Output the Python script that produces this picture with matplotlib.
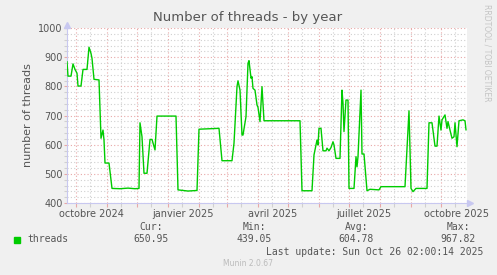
import numpy as np
import matplotlib
matplotlib.use("Agg")
import matplotlib.pyplot as plt
import matplotlib.dates as mdates
from matplotlib.patches import Rectangle

# data
dates = [
    "2024-09-22", "2024-09-23", "2024-09-26", "2024-09-28", "2024-09-30",
    "2024-10-02", "2024-10-03", "2024-10-06", "2024-10-08", "2024-10-12",
    "2024-10-14", "2024-10-16", "2024-10-17", "2024-10-19", "2024-10-24",
    "2024-10-26", "2024-10-28", "2024-10-29", "2024-10-30", "2024-11-03",
    "2024-11-06", "2024-11-14", "2024-11-22", "2024-11-29", "2024-12-03",
    "2024-12-04", "2024-12-06", "2024-12-08", "2024-12-11", "2024-12-14",
    "2024-12-16", "2024-12-19", "2024-12-21", "2025-01-09", "2025-01-11",
    "2025-01-21", "2025-01-30", "2025-02-01", "2025-02-21", "2025-02-24",
    "2025-03-06", "2025-03-08", "2025-03-11", "2025-03-12", "2025-03-14",
    "2025-03-16", "2025-03-17", "2025-03-20", "2025-03-22", "2025-03-23",
    "2025-03-25", "2025-03-26", "2025-03-27", "2025-03-29", "2025-03-31",
    "2025-04-01", "2025-04-03", "2025-04-05", "2025-04-07", "2025-05-13",
    "2025-05-15", "2025-05-25", "2025-05-27", "2025-05-30", "2025-05-31",
    "2025-06-01", "2025-06-03", "2025-06-05", "2025-06-08", "2025-06-09",
    "2025-06-11", "2025-06-13", "2025-06-15", "2025-06-16", "2025-06-18",
    "2025-06-22", "2025-06-24", "2025-06-25", "2025-06-26", "2025-06-28",
    "2025-06-30", "2025-07-01", "2025-07-06", "2025-07-08", "2025-07-09",
    "2025-07-10", "2025-07-13", "2025-07-14", "2025-07-16", "2025-07-19",
    "2025-07-22", "2025-07-31", "2025-08-02", "2025-08-26", "2025-08-30",
    "2025-09-01", "2025-09-03", "2025-09-06", "2025-09-17", "2025-09-19",
    "2025-09-22", "2025-09-25", "2025-09-27", "2025-09-29", "2025-10-01",
    "2025-10-02", "2025-10-05", "2025-10-07", "2025-10-08", "2025-10-10",
    "2025-10-12", "2025-10-14", "2025-10-15", "2025-10-17", "2025-10-19",
    "2025-10-23", "2025-10-25", "2025-10-26",
]
threads = [
    884, 835, 835, 877, 858,
    845, 801, 801, 858, 858,
    934, 913, 896, 824, 822,
    622, 650, 616, 537, 537,
    450, 449, 451, 449, 450,
    675, 627, 502, 502, 618,
    618, 582, 698, 698, 445,
    441, 443, 653, 656, 545,
    545, 605, 799, 819, 787,
    633, 633, 696, 879, 888,
    828, 833, 793, 787, 736,
    728, 679, 799, 682, 682,
    442, 442, 565, 616, 599,
    656, 656, 579, 579, 588,
    579, 590, 610, 599, 553,
    553, 787, 742, 645, 753,
    753, 450, 450, 559, 524,
    559, 787, 568, 568, 442,
    447, 445, 456, 456, 716,
    450, 439, 450, 450, 675,
    675, 595, 595, 698, 650,
    685, 702, 656, 679, 650,
    622, 627, 675, 593, 682,
    685, 682, 651,
]

label_dates = ["2024-10-16", "2025-01-16", "2025-04-16", "2025-07-16", "2025-10-16"]
label_names = ["octobre 2024", "janvier 2025", "avril 2025", "juillet 2025", "octobre 2025"]

stat_names = ["Cur:", "Min:", "Avg:", "Max:"]
stat_values = ["650.95", "439.05", "604.78", "967.82"]

W, H = 497, 275
BG = "#F0F0F0"
MAJ = "#E8A8A8"
MIN = "#D0D0D0"
AXIS = "#C8C8F0"
TXT = "#555555"

x = np.array(dates, dtype="datetime64[D]")

fig = plt.figure(figsize=(W / 100, H / 100), dpi=100, facecolor=BG)
ax = fig.add_axes([67 / W, 72 / H, 400 / W, 175 / H])
ax.set_facecolor("white")

ax.plot(x, threads, color="#00CC00", lw=1.0, zorder=3)

ax.set_xlim(np.datetime64("2024-09-22"), np.datetime64("2025-10-27"))
ax.set_ylim(400, 1000)

# grid: months major (red), mid-month minor (gray)
ax.xaxis.set_major_locator(mdates.MonthLocator())
ax.xaxis.set_minor_locator(mdates.DayLocator(bymonthday=15))
ax.xaxis.set_major_formatter(plt.NullFormatter())
ax.set_yticks(np.arange(400, 1001, 100))
ax.set_yticks(np.arange(400, 1001, 20), minor=True)

ax.grid(which="major", color=MAJ, lw=0.8, linestyle=(0, (1, 2)))
ax.grid(which="minor", color=MIN, lw=0.8, linestyle=(0, (1, 2)))
ax.set_axisbelow(True)

ax.tick_params(which="major", length=3, width=0.8, color=MAJ, labelsize=7, labelcolor=TXT, pad=1)
ax.tick_params(which="minor", length=3, width=0.8, color=MIN)
ax.tick_params(axis="y", which="both", length=2)

for s in ["top", "right"]:
    ax.spines[s].set_visible(False)
for s in ["left", "bottom"]:
    ax.spines[s].set_color(AXIS)
    ax.spines[s].set_linewidth(0.8)

# axis arrows
ax.plot([1.0 + 3 / 400], [0], marker=">", ms=4, color=AXIS, transform=ax.transAxes, clip_on=False)
ax.plot([0], [1.0 + 3 / 175], marker="^", ms=4, color=AXIS, transform=ax.transAxes, clip_on=False)

sec = ax.secondary_xaxis("bottom")
sec.set_xticks(np.array(label_dates, dtype="datetime64[D]"))
sec.set_xticklabels(label_names)
sec.tick_params(length=0, labelsize=7, labelcolor=TXT, pad=4)
sec.spines["bottom"].set_visible(False)

ax.set_ylabel("number of threads", fontsize=8, color=TXT, labelpad=4)

def fx(px):
    return px / W

def fy(py):
    return 1 - py / H

fig.text(fx(248), fy(17), "Number of threads - by year", ha="center", va="center",
         fontsize=9.5, color=TXT)
fig.text(fx(487), fy(4), "RRDTOOL / TOBI OETIKER", rotation=270, ha="center", va="top",
         fontsize=5.5, color="#C4C4C4")

# legend block
fig.patches.append(Rectangle((fx(14), fy(243)), 6 / W, 6 / H, transform=fig.transFigure,
                             color="#00CC00"))
mono = dict(family="DejaVu Sans Mono", fontsize=7, color=TXT, va="center")
fig.text(fx(27), fy(239), "threads", ha="left", **mono)
for name, val, right in zip(stat_names, stat_values, [169, 272, 374, 476]):
    fig.text(fx(right - 6), fy(227), name, ha="right", **mono)
    fig.text(fx(right), fy(239), val, ha="right", **mono)
fig.text(fx(483), fy(252), "Last update: Sun Oct 26 02:00:14 2025", ha="right", **mono)
fig.text(fx(248), fy(264), "Munin 2.0.67", ha="center", va="center", fontsize=5.5, color="#BBBBBB")

fig.savefig("out.png", dpi=100, facecolor=BG)
